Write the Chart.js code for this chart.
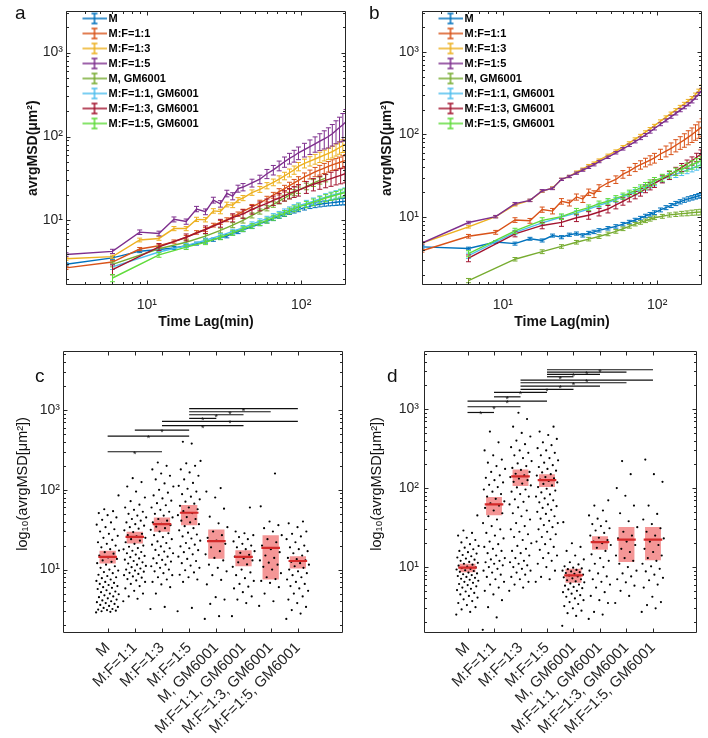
<!DOCTYPE html>
<html>
<head>
<meta charset="utf-8">
<script src="https://cdn.jsdelivr.net/npm/chart.js@4.4.0/dist/chart.umd.min.js"></script>
<style>
  body { margin: 0; background: #fff; width: 708px; height: 738px; position: relative; overflow: hidden; font-family: "Liberation Sans", Arial, sans-serif; }
  canvas { position: absolute; }
  .tag { position: absolute; font-size: 19px; line-height: 19px; color: #111; }
</style>
</head>
<body>
<canvas id="chartA" width="354" height="330" style="left:0;top:0"></canvas>
<canvas id="chartB" width="354" height="330" style="left:354px;top:0"></canvas>
<canvas id="chartC" width="354" height="408" style="left:0;top:330px"></canvas>
<canvas id="chartD" width="354" height="408" style="left:354px;top:330px"></canvas>
<div class="tag" style="left:15px;top:3px">a</div>
<div class="tag" style="left:369px;top:3px">b</div>
<div class="tag" style="left:35px;top:366px">c</div>
<div class="tag" style="left:387px;top:366px">d</div>
<script>
// ---- data ----
const seriesNames = ['M', 'M:F=1:1', 'M:F=1:3', 'M:F=1:5', 'M, GM6001', 'M:F=1:1, GM6001', 'M:F=1:3, GM6001', 'M:F=1:5, GM6001'];
const seriesColors = ['#0072BD', '#D95319', '#EDB120', '#7E2F8E', '#77AC30', '#4DBEEE', '#A2142F', '#5FDB3A'];

// time lags (min): controls every 3 min, GM6001 groups every 6 min
const lagsCtrl = [3, 6, 9, 12, 15, 18, 21, 24, 27, 30, 33, 36, 39, 42, 48, 54, 60, 66, 72, 78, 84, 90, 96, 105, 114, 123, 132, 141, 150, 159, 168, 177, 186, 195];
const lagsGM = [6, 12, 18, 24, 30, 36, 42, 48, 54, 60, 66, 72, 78, 84, 90, 96, 108, 120, 132, 144, 156, 168, 180, 192];

// panel a
const aM = [3.0, 3.58, 4.3, 4.5, 4.7, 5.0, 5.3, 5.6, 5.9, 6.2, 6.5, 7.0, 7.3, 7.7, 8.4, 9.1, 9.8, 10.5, 11.2, 11.8, 12.5, 13.0, 13.5, 14.2, 14.8, 15.2, 15.6, 15.9, 16.1, 16.3, 16.5, 16.7, 16.8, 17.0];
const aMerr = [0.12, 0.14, 0.17, 0.18, 0.19, 0.2, 0.22, 0.24, 0.26, 0.28, 0.3, 0.32, 0.34, 0.36, 0.4, 0.45, 0.5, 0.55, 0.6, 0.65, 0.7, 0.75, 0.8, 0.9, 0.95, 1.0, 1.1, 1.15, 1.2, 1.3, 1.4, 1.45, 1.5, 1.6];
const aF11 = [2.72, 3.19, 4.56, 4.99, 5.6, 6.3, 7.2, 7.8, 8.8, 9.5, 10.2, 11, 11.9, 12.8, 14.5, 16.2, 18, 20, 22, 24, 26, 28, 30, 33, 35.5, 38, 40, 42, 44, 46, 47.5, 49, 50.5, 52];
const aF11err = [0.12, 0.15, 0.2, 0.22, 0.25, 0.3, 0.35, 0.4, 0.45, 0.5, 0.55, 0.6, 0.7, 0.8, 1.0, 1.2, 1.4, 1.6, 1.9, 2.2, 2.5, 2.8, 3.2, 3.8, 4.3, 4.8, 5.3, 5.8, 6.3, 6.8, 7.3, 7.8, 8.4, 9];
const aF13 = [3.49, 3.7, 5.85, 6.1, 8.0, 8.0, 10.3, 10.2, 13, 12.8, 15.5, 15.2, 17.5, 18.5, 21.5, 23.5, 26, 28.5, 31, 34, 37, 40, 44, 48, 51, 54, 57, 60, 63, 66, 70, 74, 78, 82];
const aF13err = [0.15, 0.16, 0.3, 0.3, 0.45, 0.45, 0.6, 0.6, 0.8, 0.8, 1.0, 1.0, 1.2, 1.3, 1.6, 1.9, 2.2, 2.6, 3, 3.5, 4, 4.5, 5, 5.8, 6.5, 7.2, 8, 8.8, 9.6, 10.5, 11.5, 12.5, 13.5, 15];
const aF15 = [3.92, 4.28, 7.25, 7.0, 10.3, 9.7, 13.7, 12.7, 17.5, 15.8, 21, 19.5, 24, 25, 28, 31, 36, 40, 45, 50, 55, 59, 64, 70, 76, 82, 88, 94, 100, 108, 118, 128, 138, 150];
const aF15err = [0.2, 0.25, 0.45, 0.45, 0.7, 0.7, 1.0, 1.0, 1.4, 1.4, 1.9, 1.9, 2.3, 2.5, 3, 3.6, 4.5, 5.2, 6, 7, 8, 9.5, 11, 13, 15, 17, 20, 23, 27, 31, 36, 42, 50, 60];
const aGM = [3.0, 4.6, 5.5, 6.5, 7.6, 8.8, 10, 11.5, 12.8, 14, 15.5, 17, 18.5, 20, 21.5, 23, 25.5, 28, 30, 32, null, null, null, null];
const aGMerr = [0.2, 0.3, 0.35, 0.4, 0.5, 0.6, 0.7, 0.8, 0.9, 1.0, 1.15, 1.3, 1.45, 1.6, 1.8, 2.0, 2.3, 2.6, 2.9, 3.2, null, null, null, null];
const aF11GM = [2.8, 4.2, 5.0, 5.8, 6.6, 7.4, 8.2, 9, 9.8, 10.5, 11.3, 12, 12.8, 13.5, 14.3, 15, 16, 17, 18, 19, 19.8, 20.5, 21.3, 22];
const aF11GMerr = [0.2, 0.25, 0.3, 0.35, 0.4, 0.45, 0.5, 0.6, 0.65, 0.7, 0.75, 0.8, 0.9, 1, 1.1, 1.2, 1.35, 1.5, 1.65, 1.8, 1.95, 2.1, 2.25, 2.4];
const aF13GM = [2.6, 4.85, 6.3, 7.8, 9.3, 10.8, 12, 13.5, 14.8, 16, 17.3, 18.5, 19.8, 21, 22, 23, 25, 27, 28.5, 30, 31.5, 33, 34.5, 36];
const aF13GMerr = [0.35, 0.45, 0.6, 0.8, 1.0, 1.2, 1.4, 1.6, 1.8, 2.0, 2.2, 2.5, 2.8, 3, 3.2, 3.5, 4, 4.5, 5, 5.5, 6, 6.5, 7.2, 8];
const aF15GM = [2.06, 3.89, 4.8, 5.5, 6.3, 7.1, 7.9, 8.6, 9.3, 10, 10.8, 11.5, 12.2, 13, 13.8, 14.5, 15.5, 16.5, 17.5, 18.5, 19.3, 20, 20.8, 21.5];
const aF15GMerr = [0.2, 0.25, 0.3, 0.35, 0.4, 0.45, 0.5, 0.55, 0.6, 0.7, 0.75, 0.8, 0.9, 1, 1.1, 1.2, 1.35, 1.5, 1.65, 1.8, 1.95, 2.1, 2.25, 2.4];

// panel b
const bM = [4.34, 4.16, 4.97, 4.76, 5.45, 5.2, 5.96, 5.7, 6.1, 6.3, 6.0, 6.4, 6.6, 6.9, 7.3, 7.7, 8.2, 8.7, 9.2, 9.7, 10.3, 10.8, 11.3, 12.2, 13, 13.8, 14.6, 15.3, 16, 16.6, 17.1, 17.6, 18.1, 18.5];
const bMerr = [0.15, 0.15, 0.2, 0.2, 0.22, 0.22, 0.25, 0.25, 0.27, 0.28, 0.28, 0.3, 0.31, 0.32, 0.35, 0.37, 0.4, 0.42, 0.45, 0.48, 0.5, 0.55, 0.6, 0.66, 0.72, 0.78, 0.85, 0.9, 0.95, 1.0, 1.05, 1.1, 1.2, 1.3];
const bF11 = [3.9, 5.85, 6.53, 9.2, 9.0, 12.3, 11.8, 15.5, 14.8, 17.5, 16.5, 20, 19, 22.5, 26, 28.5, 33, 36, 40, 43, 46, 49, 52, 58, 63, 68, 74, 80, 86, 93, 100, 108, 116, 125];
const bF11err = [0.15, 0.3, 0.35, 0.6, 0.6, 0.9, 0.9, 1.2, 1.2, 1.5, 1.5, 1.8, 1.8, 2.1, 2.6, 3, 3.5, 4, 4.5, 5, 5.5, 6.2, 7, 8.2, 9.5, 11, 12.5, 14, 16, 18, 20, 23, 26, 30];
const bF13 = [4.84, 7.6, 10.1, 14.0, 15.9, 20.5, 22.5, 28.6, 31, 35, 38, 42, 45, 49, 56, 63, 71, 79, 88, 97, 107, 117, 128, 145, 162, 180, 198, 217, 236, 256, 277, 305, 340, 380];
const bF13err = [0.15, 0.25, 0.3, 0.4, 0.5, 0.6, 0.7, 0.9, 1, 1.1, 1.2, 1.3, 1.4, 1.5, 1.8, 2, 2.3, 2.6, 3, 3.4, 3.8, 4.2, 4.6, 5.3, 6, 6.8, 7.6, 8.4, 9.2, 10, 11, 12.5, 14, 16];
const bF15 = [4.84, 8.57, 10.1, 14.5, 15.9, 20.8, 22.2, 28.6, 31, 34, 37, 40, 43, 47, 53, 60, 67, 74, 82, 90, 99, 108, 118, 133, 148, 164, 180, 197, 214, 232, 252, 280, 310, 345];
const bF15err = [0.15, 0.3, 0.35, 0.5, 0.55, 0.7, 0.75, 0.9, 1, 1.1, 1.2, 1.3, 1.4, 1.5, 1.8, 2, 2.3, 2.6, 3, 3.4, 3.8, 4.2, 4.6, 5.3, 6, 6.8, 7.6, 8.4, 9.2, 10, 11, 12.5, 14, 16];
const bGM = [1.7, 3.08, 3.8, 4.4, 4.95, 5.4, 5.8, 6.25, 6.7, 7.2, 7.7, 8.2, 8.6, 9.0, 9.4, 9.8, 10.2, 10.6, 10.8, 11.0, 11.1, 11.3, 11.4, 11.5];
const bGMerr = [0.1, 0.15, 0.2, 0.22, 0.25, 0.27, 0.3, 0.32, 0.34, 0.36, 0.38, 0.4, 0.43, 0.45, 0.48, 0.5, 0.55, 0.6, 0.65, 0.7, 0.75, 0.8, 0.85, 0.9];
const bF11GM = [3.4, 6.5, 8.5, 10.0, 11.2, 12.5, 13.8, 15, 16.2, 17.5, 18.8, 20, 21.5, 23, 24.5, 26, 28.5, 31, 33, 35, 37, 39, 41, 43];
const bF11GMerr = [0.25, 0.4, 0.5, 0.6, 0.7, 0.8, 0.9, 1.0, 1.1, 1.2, 1.35, 1.5, 1.65, 1.8, 1.95, 2.1, 2.35, 2.6, 2.9, 3.2, 3.5, 3.8, 4.1, 4.5];
const bF13GM = [3.17, 6.25, 7.9, 8.6, 9.8, 10.5, 11.5, 12.5, 14, 15.5, 17, 18.5, 20, 22, 23.8, 25.5, 29, 32, 36, 40, 44, 48, 53, 58];
const bF13GMerr = [0.3, 0.5, 0.7, 0.9, 1.0, 1.1, 1.2, 1.3, 1.45, 1.6, 1.75, 1.9, 2.1, 2.3, 2.5, 2.7, 3.1, 3.5, 4, 4.5, 5, 5.5, 6.2, 7];
const bF15GM = [3.6, 6.8, 9.1, 10.1, 11.8, 13, 14.5, 15.5, 16.8, 18, 19.5, 21, 22.5, 24, 25.8, 27.5, 30, 33, 35.5, 38, 40.5, 43, 45.5, 48];
const bF15GMerr = [0.3, 0.5, 0.7, 0.8, 0.9, 1.0, 1.1, 1.2, 1.35, 1.5, 1.65, 1.8, 2, 2.2, 2.4, 2.6, 2.9, 3.3, 3.6, 4, 4.5, 5, 5.5, 6];

// panel c: per-cell avrgMSD (um^2), mean line and box limits
const cM = [2.9, 2.95, 3.0, 3.05, 3.1, 3.15, 3.2, 3.3, 3.4, 3.5, 3.6, 3.7, 3.8, 3.9, 4.0, 4.1, 4.2, 4.35, 4.5, 4.6, 4.75, 4.9, 5.0, 5.2, 5.3, 5.5, 5.7, 5.9, 6.0, 6.2, 6.4, 6.6, 6.8, 7.0, 7.2, 7.5, 7.8, 8.0, 8.3, 8.6, 9.0, 9.3, 9.7, 10, 10.5, 11, 11.5, 12, 12.5, 13, 13.6, 14.2, 15, 15.8, 16.5, 17.3, 18, 19, 20, 21, 22, 23.5, 25, 26.5, 28, 30, 32, 34, 36.5, 39, 42, 45, 48, 51, 54, 57, 85];
const cF11 = [4.0, 4.3, 4.6, 5.0, 5.4, 5.8, 6.2, 6.6, 7.0, 7.3, 7.6, 7.9, 8.2, 8.5, 8.8, 9.1, 9.4, 9.7, 10, 10.3, 10.7, 11.1, 11.5, 11.9, 12.3, 12.8, 13.3, 13.8, 14.3, 14.8, 15.4, 16, 16.6, 17.2, 17.9, 18.6, 19.3, 20, 21, 22, 23, 24, 25, 26, 27, 28, 29.5, 31, 32.5, 34, 35.5, 37, 39, 41, 43, 45, 47.5, 50, 53, 56, 60, 65, 72, 80, 95, 110, 125, 140];
const cF13 = [3.2, 3.4, 5.0, 6.0, 6.5, 7.0, 7.5, 8.0, 8.5, 9.0, 9.5, 10, 10.5, 11, 11.5, 12, 12.6, 13.2, 13.8, 14.5, 15.2, 16, 16.8, 17.6, 18.5, 19.5, 20.5, 21.5, 22.5, 24, 25.5, 27, 28.5, 30, 31.5, 33, 34.5, 36, 37.5, 39, 41, 43, 45, 47.5, 50, 53, 56, 60, 64, 68, 73, 78, 85, 92, 100, 110, 120, 135, 150, 160, 180, 200, 220];
const cF15 = [3.0, 3.3, 7.0, 7.5, 8.0, 8.6, 9.2, 9.8, 10.5, 11.2, 12, 12.8, 13.6, 14.5, 15.5, 16.5, 17.5, 18.5, 19.5, 20.5, 21.5, 23, 24.5, 26, 27.5, 29, 31, 33, 35, 37, 39, 41, 43, 45.5, 48, 51, 54, 57, 60, 63, 67, 71, 76, 82, 88, 95, 103, 112, 122, 135, 150, 165, 180, 200, 215, 230, 380, 400];
const cGM = [2.4, 2.6, 3.7, 4.2, 4.5, 6.5, 7.4, 8.5, 9.5, 10.5, 11.5, 13, 14, 15.5, 17, 19, 21, 23, 25, 27, 30, 34, 38, 46, 58, 80, 95, 105];
const cF11GM = [2.6, 3.8, 4.2, 4.6, 5.2, 5.8, 6.1, 6.6, 7.2, 7.8, 8.5, 9.2, 10, 10.8, 11.6, 12.3, 13, 13.8, 14.5, 15.3, 16.2, 17, 18, 19, 20, 21, 22.5, 24, 25.5, 27, 28.5, 30, 60];
const cF13GM = [3.5, 4.0, 5.0, 6.0, 6.8, 7.2, 7.6, 8.0, 9.0, 10, 10.8, 11.5, 12.2, 13, 14, 15, 16.5, 18, 20, 22, 24, 27, 30, 33, 36, 40, 62, 160];
const cF15GM = [2.4, 2.8, 3.1, 3.4, 3.8, 4.2, 4.6, 5.0, 5.4, 5.8, 6.2, 6.6, 7.0, 7.5, 8.0, 8.5, 9.0, 9.5, 10, 10.5, 11, 11.5, 12, 12.5, 13, 13.5, 14, 15, 16, 17, 18, 19, 20, 22, 24, 26, 28, 30, 34, 38, 40];
const cMean = [14.4, 25.7, 37.0, 51.5, 22.7, 14.4, 18.7, 12.8];
const cLow = [11.9, 21.2, 29.7, 36.0, 13.7, 11.0, 7.5, 10.3];
const cHigh = [17.2, 29.7, 45.0, 64.4, 31.8, 17.5, 27.0, 14.7];
const cSigPairs = [[0, 2], [0, 3], [1, 3], [2, 5], [2, 7], [3, 4], [3, 5], [3, 6], [3, 7]];
const cSigLevels = [300, 472, 561, 636, 720, 786, 873, 952, 1040];

// panel d
const dM = [2.5, 2.7, 2.9, 3.1, 3.3, 3.5, 3.7, 3.9, 4.1, 4.3, 4.5, 4.7, 4.9, 5.1, 5.3, 5.5, 5.7, 5.9, 6.1, 6.3, 6.5, 6.7, 6.9, 7.1, 7.3, 7.5, 7.7, 7.9, 8.1, 8.3, 8.5, 8.7, 8.9, 9.1, 9.3, 9.5, 9.7, 9.9, 10.1, 10.4, 10.7, 11, 11.3, 11.6, 12, 12.4, 12.8, 13.2, 13.7, 14.2, 14.8, 15.4, 16, 16.8, 17.6, 18.5, 19.5, 20.5, 22, 23.5, 25, 27, 29, 45];
const dF11 = [1.6, 2.3, 3.1, 3.8, 4.5, 5.0, 5.5, 6.0, 6.5, 7.0, 7.5, 8.0, 8.5, 9.0, 9.5, 10, 10.5, 11, 11.5, 12, 12.5, 13, 14, 15, 16, 17, 18, 19.5, 21, 23, 25, 27, 30, 33, 36, 40, 44, 48, 52, 56, 60, 64, 68, 73, 78, 84, 90, 96, 103, 110, 118, 126, 135, 145, 160, 175, 190, 210, 230, 260, 300, 380, 520];
const dF13 = [5.0, 5.5, 6.0, 6.5, 7.0, 7.5, 8.0, 8.5, 9.0, 9.5, 10, 10.5, 11, 11.5, 12, 13, 14, 15, 16, 17, 18.5, 20, 22, 24, 26, 28, 30, 33, 36, 40, 44, 48, 52, 57, 62, 67, 72, 78, 84, 90, 96, 102, 108, 114, 120, 126, 132, 138, 145, 152, 160, 170, 180, 190, 205, 220, 240, 260, 280, 300, 330, 360, 400, 450, 500, 600, 750, 900];
const dF15 = [6.5, 7.0, 7.5, 9.0, 10, 11, 12, 13, 14, 15, 16.5, 18, 19.5, 21, 22.5, 24, 26, 28, 30, 32, 34, 36, 38.5, 41, 44, 47, 50, 53, 56, 59, 62, 66, 70, 74, 78, 83, 88, 93, 98, 103, 108, 113, 118, 123, 128, 133, 138, 144, 150, 158, 166, 175, 185, 195, 210, 225, 240, 260, 280, 300, 320, 350, 380, 420, 470, 520, 600];
const dGM = [1.8, 2.4, 2.6, 2.8, 3.0, 3.2, 3.4, 3.6, 3.8, 4.0, 4.2, 4.4, 4.6, 4.8, 5.0, 5.2, 5.4, 5.6, 5.8, 6.0, 6.2, 6.4, 6.6, 6.8, 7.0, 7.2, 7.4, 7.6, 7.8, 8.0, 8.2, 8.4, 8.6, 8.8, 9.0, 9.2, 9.4, 9.6, 9.8, 10.2, 10.8, 11.5, 12.5, 14, 16, 18, 20, 37];
const dF11GM = [2.2, 2.5, 2.7, 3.5, 3.8, 4.3, 4.8, 5.5, 6.0, 6.5, 7.0, 7.6, 8.3, 9, 10, 11, 12, 13, 14.5, 16, 17.5, 19, 20, 21, 22, 23.5, 25, 27, 29, 31, 33, 35, 38, 41, 45, 52, 60, 70];
const dF13GM = [3.5, 4.3, 5.0, 5.8, 6.4, 7.0, 7.6, 8.3, 9.0, 10, 11, 12, 13, 14, 15.5, 17, 19, 21, 23, 25, 28, 32, 38, 48, 60, 80, 100, 150, 220];
const dF15GM = [2.7, 3.0, 3.3, 3.6, 4.2, 5.5, 6.0, 6.8, 7.3, 8.0, 8.8, 9.5, 10.2, 11, 12, 13, 14, 15.5, 17, 19, 21, 23, 25, 28, 31, 35, 40, 47, 60, 120, 150, 230];
const dMean = [9.8, 62.3, 141, 126, 7.84, 20.7, 22.2, 22.2];
const dLow = [8.6, 45.3, 106, 103, 6.3, 16.6, 11.6, 12.2];
const dHigh = [11.0, 77.3, 172, 150, 9.5, 24.5, 32.1, 32.1];
const dSigPairs = [[0, 1], [0, 2], [0, 3], [1, 2], [1, 3], [2, 4], [2, 5], [2, 6], [2, 7], [3, 4], [3, 5], [3, 6], [3, 7]];
const dSigLevels = [907, 1072, 1262, 1432, 1626, 1775, 1957, 2160, 2334, 2572, 2753, 2947, 3155];

// ---- helpers ----
Chart.defaults.font.family = '"Liberation Sans", Arial, sans-serif';
Chart.defaults.color = '#262626';
const SUP = { 0: '⁰', 1: '¹', 2: '²', 3: '³', 4: '⁴' };
const INK = '#262626';

function logMarks(min, max) {
  const out = [];
  for (let e = Math.floor(Math.log10(min)); e <= Math.ceil(Math.log10(max)); e++) {
    for (let m = 1; m < 10; m++) {
      const v = m * Math.pow(10, e);
      if (v >= min && v <= max) out.push({ v, major: m === 1 });
    }
  }
  return out;
}

// matlab-like box with inward ticks on all sides
const axesBox = {
  id: 'axesBox',
  afterDatasetsDraw(chart) {
    const { ctx, chartArea: a, scales: { x, y } } = chart;
    const L = Math.round(a.left) + 0.5, R = Math.round(a.right) - 0.5;
    const T = Math.round(a.top) + 0.5, B = Math.round(a.bottom) - 0.5;
    const xm = x.type === 'logarithmic' ? logMarks(x.min, x.max) : x.ticks.map(t => ({ v: t.value, major: true }));
    const ym = y.type === 'logarithmic' ? logMarks(y.min, y.max) : y.ticks.map(t => ({ v: t.value, major: true }));
    ctx.save();
    ctx.strokeStyle = INK;
    ctx.lineWidth = 1;
    ctx.beginPath();
    ctx.rect(L, T, R - L, B - T);
    xm.forEach(t => {
      const p = Math.round(x.getPixelForValue(t.v)) + 0.5, len = t.major ? 4 : 2.5;
      ctx.moveTo(p, B); ctx.lineTo(p, B - len);
      ctx.moveTo(p, T); ctx.lineTo(p, T + len);
    });
    ym.forEach(t => {
      const p = Math.round(y.getPixelForValue(t.v)) + 0.5, len = t.major ? 4 : 2.5;
      ctx.moveTo(L, p); ctx.lineTo(L + len, p);
      ctx.moveTo(R, p); ctx.lineTo(R - len, p);
    });
    ctx.stroke();
    ctx.restore();
  }
};

// vertical error bars with caps, drawn right after their own line
const errorBars = {
  id: 'errorBars',
  afterDatasetDraw(chart, args) {
    const ds = chart.data.datasets[args.index];
    if (!ds.errors) return;
    const { ctx, chartArea: a, scales: { x, y } } = chart;
    ctx.save();
    ctx.beginPath();
    ctx.rect(a.left, a.top, a.right - a.left, a.bottom - a.top);
    ctx.clip();
    ctx.strokeStyle = ds.borderColor;
    ctx.lineWidth = 1;
    ctx.beginPath();
    ds.data.forEach((pt, i) => {
      const e = ds.errors[i];
      if (pt.y == null || e == null) return;
      const px = x.getPixelForValue(pt.x);
      const top = y.getPixelForValue(pt.y + e);
      const bot = y.getPixelForValue(Math.max(pt.y - e, 0.01));
      ctx.moveTo(px, top); ctx.lineTo(px, bot);
      ctx.moveTo(px - 2.5, top); ctx.lineTo(px + 2.5, top);
      ctx.moveTo(px - 2.5, bot); ctx.lineTo(px + 2.5, bot);
    });
    ctx.stroke();
    ctx.restore();
  }
};

// significance brackets with stars
const sigBars = {
  id: 'sigBars',
  afterDatasetsDraw(chart, args, opts) {
    if (!opts.pairs) return;
    const { ctx, scales: { x, y } } = chart;
    ctx.save();
    ctx.strokeStyle = '#111';
    ctx.fillStyle = '#111';
    ctx.lineWidth = 1.2;
    ctx.font = '9px "Liberation Sans", Arial, sans-serif';
    ctx.textAlign = 'center';
    ctx.textBaseline = 'alphabetic';
    opts.pairs.forEach((p, i) => {
      const x1 = x.getPixelForValue(p[0] + 1), x2 = x.getPixelForValue(p[1] + 1);
      const py = y.getPixelForValue(opts.levels[i]);
      ctx.beginPath();
      ctx.moveTo(x1, py); ctx.lineTo(x2, py);
      ctx.stroke();
      ctx.fillText('*', (x1 + x2) / 2, py + 5);
    });
    ctx.restore();
  }
};

function legendIcon(color) {
  const c = document.createElement('canvas');
  c.width = 40; c.height = 14;
  const g = c.getContext('2d');
  g.strokeStyle = color;
  g.lineWidth = 1.5;
  g.beginPath();
  g.moveTo(16, 7); g.lineTo(40, 7);
  g.moveTo(28, 2); g.lineTo(28, 12);
  g.moveTo(25, 2); g.lineTo(31, 2);
  g.moveTo(25, 12); g.lineTo(31, 12);
  g.stroke();
  return c;
}

function line(i, lags, vals, errs) {
  return {
    label: seriesNames[i],
    borderColor: seriesColors[i],
    backgroundColor: seriesColors[i],
    borderWidth: 1.4,
    pointRadius: 0,
    tension: 0,
    spanGaps: true,
    order: 20 - i,
    data: lags.map((l, k) => ({ x: l, y: vals[k] })),
    errors: errs
  };
}

function msdChart(id, yMin, yWidth, datasets) {
  return new Chart(document.getElementById(id), {
    type: 'line',
    data: { datasets },
    options: {
      responsive: false,
      animation: false,
      events: [],
      layout: { padding: { left: 0, right: 354 - (yWidth + 280), top: 5, bottom: 0 } },
      scales: {
        x: {
          type: 'logarithmic', min: 3, max: 195, bounds: 'data',
          grid: { display: false, drawTicks: false },
          border: { display: false },
          afterBuildTicks: s => { s.ticks = [10, 100].map(v => ({ value: v })); },
          afterFit: s => { s.height = 45; },
          ticks: { padding: 12, font: { size: 14 }, color: INK, maxRotation: 0, callback: v => '10' + SUP[Math.round(Math.log10(v))] },
          title: { display: true, text: 'Time Lag(min)', color: '#111', font: { size: 14, weight: 'bold' }, padding: { top: 0, bottom: -1 } }
        },
        y: {
          type: 'logarithmic', min: yMin, max: 3100, bounds: 'data',
          grid: { display: false, drawTicks: false },
          border: { display: false },
          afterBuildTicks: s => { s.ticks = [10, 100, 1000].map(v => ({ value: v })); },
          afterFit: s => { s.width = yWidth; },
          ticks: { padding: 3, font: { size: 14 }, color: INK, callback: v => '10' + SUP[Math.round(Math.log10(v))] },
          title: { display: true, text: 'avrgMSD(μm²)', color: '#111', font: { size: 14, weight: 'bold' }, padding: { top: 25, bottom: 0 } }
        }
      },
      plugins: {
        tooltip: { enabled: false },
        legend: {
          position: 'chartArea',
          align: 'start',
          title: { display: true, text: ' ', font: { size: 5 }, padding: { top: 3, bottom: 0 } },
          labels: {
            usePointStyle: true,
            pointStyleWidth: 33,
            padding: 4,
            font: { size: 11, weight: 'bold' },
            color: '#000',
            sort: (p, q) => p.datasetIndex - q.datasetIndex,
            generateLabels: chart => chart.data.datasets.map((ds, i) => ({
              text: ds.label, datasetIndex: i, hidden: false, lineWidth: 0,
              fillStyle: ds.borderColor, strokeStyle: ds.borderColor, fontColor: '#000',
              pointStyle: legendIcon(ds.borderColor)
            }))
          }
        }
      }
    },
    plugins: [errorBars, axesBox]
  });
}

function spread(groups) {
  const pts = [];
  groups.forEach((vals, g) => {
    vals.forEach((v, k) => {
      pts.push({ x: g + 1 + (((k * 0.6180339887) % 1) - 0.5) * 0.85, y: v });
    });
  });
  return pts;
}

function dotChart(id, yMin, yMax, yWidth, tickPad, groups, mean, low, high, pairs, levels) {
  return new Chart(document.getElementById(id), {
    type: 'scatter',
    data: {
      datasets: [
        {
          type: 'scatter', order: 1,
          data: mean.map((m, i) => ({ x: i + 1, y: m })),
          pointStyle: 'line', pointRadius: 9.3, pointBorderColor: '#D42A2A', pointBorderWidth: 2.2
        },
        {
          type: 'scatter', order: 2,
          data: spread(groups),
          pointRadius: 1.1, pointBackgroundColor: '#000', pointBorderWidth: 0
        },
        {
          type: 'bar', order: 3,
          data: low.map((l, i) => ({ x: i + 1, y: [l, high[i]] })),
          backgroundColor: 'rgba(233,45,45,0.5)', borderWidth: 0,
          barPercentage: 0.6, categoryPercentage: 1
        }
      ]
    },
    options: {
      responsive: false,
      animation: false,
      events: [],
      layout: { padding: { left: 0, right: 354 - (yWidth + 280), top: 21, bottom: 0 } },
      scales: {
        x: {
          type: 'linear', min: 0, max: 9, bounds: 'data',
          grid: { display: false, drawTicks: false },
          border: { display: false },
          afterBuildTicks: s => { s.ticks = seriesNames.map((n, i) => ({ value: i + 1 })); },
          afterFit: s => { s.height = 105; },
          ticks: { autoSkip: false, minRotation: 45, maxRotation: 45, padding: 6, font: { size: 15 }, color: INK, callback: v => seriesNames[v - 1] }
        },
        y: {
          type: 'logarithmic', min: yMin, max: yMax, bounds: 'data',
          grid: { display: false, drawTicks: false },
          border: { display: false },
          afterBuildTicks: s => { s.ticks = [10, 100, 1000].map(v => ({ value: v })); },
          afterFit: s => { s.width = yWidth; },
          ticks: { padding: tickPad, font: { size: 14 }, color: INK, callback: v => '10' + SUP[Math.round(Math.log10(v))] },
          title: { display: true, text: '    log₁₀(avrgMSD[μm²])', color: '#111', font: { size: 14.5 }, padding: { top: 14, bottom: 0 } }
        }
      },
      plugins: {
        tooltip: { enabled: false },
        legend: { display: false },
        sigBars: { pairs, levels }
      }
    },
    plugins: [sigBars, axesBox]
  });
}

// ---- charts ----
msdChart('chartA', 1.7, 66, [
  line(0, lagsCtrl, aM, aMerr),
  line(1, lagsCtrl, aF11, aF11err),
  line(2, lagsCtrl, aF13, aF13err),
  line(3, lagsCtrl, aF15, aF15err),
  line(4, lagsGM, aGM, aGMerr),
  line(5, lagsGM, aF11GM, aF11GMerr),
  line(6, lagsGM, aF13GM, aF13GMerr),
  line(7, lagsGM, aF15GM, aF15GMerr)
]);

msdChart('chartB', 1.5, 68, [
  line(0, lagsCtrl, bM, bMerr),
  line(1, lagsCtrl, bF11, bF11err),
  line(2, lagsCtrl, bF13, bF13err),
  line(3, lagsCtrl, bF15, bF15err),
  line(4, lagsGM, bGM, bGMerr),
  line(5, lagsGM, bF11GM, bF11GMerr),
  line(6, lagsGM, bF13GM, bF13GMerr),
  line(7, lagsGM, bF15GM, bF15GMerr)
]);

dotChart('chartC', 1.6, 5500, 63, 3,
  [cM, cF11, cF13, cF15, cGM, cF11GM, cF13GM, cF15GM],
  cMean, cLow, cHigh, cSigPairs, cSigLevels);

dotChart('chartD', 1.46, 5450, 70, 5,
  [dM, dF11, dF13, dF15, dGM, dF11GM, dF13GM, dF15GM],
  dMean, dLow, dHigh, dSigPairs, dSigLevels);
</script>
</body>
</html>
